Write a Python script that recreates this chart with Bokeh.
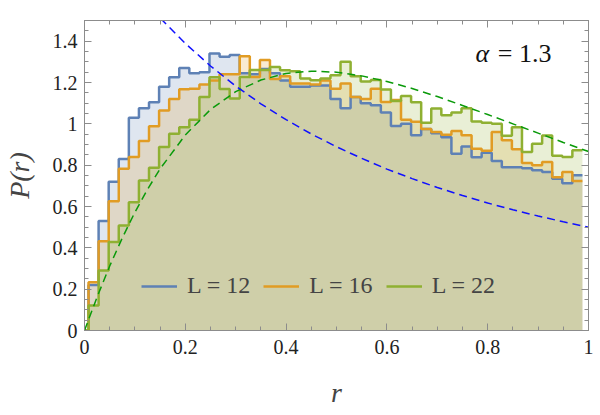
from bokeh.plotting import figure
from bokeh.models import (FixedTicker, CustomJSTickFormatter, LinearAxis, Legend,
                          LegendItem, Label, Range1d)
from bokeh.embed import file_html
from bokeh.resources import INLINE

# ---------------- data ----------------
bin_start = 0.008
bin_width = 0.02

p_L12 = [0.22, 0.53, 0.72, 0.83, 1.03, 1.075, 1.105, 1.18, 1.225, 1.27,
         1.245, 1.25, 1.34, 1.325, 1.333, 1.245, 1.24, 1.265, 1.245, 1.21,
         1.18, 1.18, 1.185, 1.185, 1.12, 1.075, 1.13, 1.10, 1.09, 1.055,
         0.99, 1.0, 0.945, 0.975, 0.955, 0.935, 0.855, 0.89, 0.838, 0.86,
         0.82, 0.79, 0.79, 0.785, 0.775, 0.767, 0.734, 0.713, 0.751]

p_L16 = [0.234, 0.432, 0.626, 0.783, 0.839, 0.917, 0.988, 1.065, 1.12, 1.167,
         1.17, 1.19, 1.21, 1.24, 1.24, 1.327, 1.227, 1.309, 1.217, 1.23,
         1.195, 1.195, 1.19, 1.21, 1.17, 1.195, 1.13, 1.12, 1.17, 1.106,
         1.115, 1.02, 1.01, 0.975, 0.96, 0.947, 0.965, 0.945, 0.879, 0.87,
         0.96, 0.92, 0.877, 0.81, 0.80, 0.815, 0.742, 0.767, 0.723]

p_L22 = [0.121, 0.29, 0.428, 0.508, 0.621, 0.726, 0.788, 0.888, 0.952, 0.983,
         1.02, 1.13, 1.225, 1.168, 1.122, 1.227, 1.26, 1.26, 1.275, 1.259,
         1.254, 1.219, 1.211, 1.219, 1.235, 1.30, 1.23, 1.205, 1.212, 1.166,
         1.11, 1.135, 1.105, 1.005, 1.074, 1.041, 1.055, 1.076, 1.011, 1.005,
         1.0, 0.942, 0.983, 0.864, 0.904, 0.944, 0.845, 0.839, 0.872]

# reference curves (sampled)
goe_r = [0.0, 0.025, 0.05, 0.075, 0.1, 0.125, 0.15, 0.2, 0.25, 0.3, 0.35, 0.4,
         0.45, 0.5, 0.55, 0.6, 0.65, 0.7, 0.75, 0.8, 0.85, 0.9, 0.95, 1.0]
goe_p = [0.0, 0.162, 0.312, 0.448, 0.572, 0.683, 0.782, 0.946, 1.069, 1.156,
         1.212, 1.244, 1.255, 1.250, 1.232, 1.205, 1.171, 1.132, 1.089, 1.045,
         1.000, 0.955, 0.910, 0.866]
poi_r = [0.1, 0.15, 0.2, 0.25, 0.3, 0.35, 0.4, 0.45, 0.5, 0.55, 0.6, 0.65,
         0.7, 0.75, 0.8, 0.85, 0.9, 0.95, 1.0]
poi_p = [1.653, 1.512, 1.389, 1.280, 1.183, 1.097, 1.020, 0.951, 0.889, 0.833,
         0.781, 0.735, 0.692, 0.653, 0.617, 0.584, 0.554, 0.526, 0.500]

x_ticks = [0, 0.2, 0.4, 0.6, 0.8, 1.0]
y_ticks = [0, 0.2, 0.4, 0.6, 0.8, 1.0, 1.2, 1.4]
series_labels = ["L = 12", "L = 16", "L = 22"]

SERIF = "'Liberation Serif', 'DejaVu Serif', serif"

# ---------------- figure ----------------
p = figure(width=600, height=415, output_backend="svg", toolbar_location=None,
           x_range=Range1d(0, 1), y_range=Range1d(0, 1.5),
           min_border_left=83, min_border_right=12, min_border_top=20,
           min_border_bottom=85, x_axis_type=None, y_axis_type=None)
p.xgrid.visible = False
p.ygrid.visible = False
p.outline_line_color = "#8c8c8c"
p.background_fill_color = "white"
p.border_fill_color = "white"

edges = [0.0] + [bin_start + bin_width * k for k in range(len(p_L12) + 1)]

colors = ["#5E81B5", "#E19C24", "#8FB032"]
all_series = [p_L12, p_L16, p_L22]

for vals, c in zip(all_series, colors):
    ys = [0.0] + list(vals) + [vals[-1]]
    p.varea_step(x=edges, y1=[0.0] * len(edges), y2=ys, step_mode="after",
                 fill_color=c, fill_alpha=0.2)

step_renderers = []
for vals, c in zip(all_series, colors):
    ys = [0.0] + list(vals) + [vals[-1]]
    r = p.step(x=edges, y=ys, mode="after", line_color=c, line_width=2.5)
    step_renderers.append(r)

p.line(goe_r, goe_p, line_color="#0a9a0a", line_width=1.5, line_dash="8 5")
p.line(poi_r, poi_p, line_color="#1010ff", line_width=1.5, line_dash="8 5")

# ---------------- axes ----------------
fmt = CustomJSTickFormatter(code="return String(Math.round(tick*10)/10);")
xminor = [i * 0.05 for i in range(21)]
yminor = [i * 0.05 for i in range(31)]

def style_axis(ax, labels=True):
    ax.axis_line_color = "#8c8c8c"
    ax.major_tick_line_color = "#8c8c8c"
    ax.minor_tick_line_color = "#8c8c8c"
    ax.major_tick_in = 7
    ax.major_tick_out = 0
    ax.minor_tick_in = 4
    ax.minor_tick_out = 0
    ax.major_label_text_font = SERIF
    ax.major_label_text_font_size = "20px" if labels else "0px"
    ax.major_label_text_color = "#222222" if labels else None
    ax.formatter = fmt

xb = LinearAxis(ticker=FixedTicker(ticks=x_ticks, minor_ticks=xminor))
style_axis(xb)
xb.major_label_standoff = 9
xb.axis_label = "r"
xb.axis_label_text_font = SERIF
xb.axis_label_text_font_style = "italic"
xb.axis_label_text_font_size = "28px"
xb.axis_label_standoff = 20
p.add_layout(xb, "below")

yl = LinearAxis(ticker=FixedTicker(ticks=y_ticks, minor_ticks=yminor))
style_axis(yl)
yl.major_label_standoff = 7
yl.axis_label = "P(r)"
yl.axis_label_text_font = SERIF
yl.axis_label_text_font_style = "italic"
yl.axis_label_text_font_size = "28px"
yl.axis_label_standoff = 15
p.add_layout(yl, "left")

xt = LinearAxis(ticker=FixedTicker(ticks=x_ticks, minor_ticks=xminor))
style_axis(xt, labels=False)
p.add_layout(xt, "above")

yr = LinearAxis(ticker=FixedTicker(ticks=y_ticks, minor_ticks=yminor))
style_axis(yr, labels=False)
p.add_layout(yr, "right")

# ---------------- legend ----------------
legend = Legend(items=[LegendItem(label=lab, renderers=[r])
                       for lab, r in zip(series_labels, step_renderers)],
                orientation="horizontal", location=(57, 31))
legend.background_fill_alpha = 0
legend.border_line_color = None
legend.label_text_font = SERIF
legend.label_text_font_size = "24px"
legend.glyph_width = 36
legend.label_standoff = 10
legend.spacing = 13
legend.padding = 5
legend.margin = 0
p.add_layout(legend, "center")

# ---------------- annotation ----------------
p.add_layout(Label(x=0.776, y=1.34, text="α", text_font=SERIF,
                   text_font_style="italic", text_font_size="26px",
                   text_baseline="middle", text_color="#111111"))
p.add_layout(Label(x=0.82, y=1.34, text="= 1.3", text_font=SERIF,
                   text_font_size="26px", text_baseline="middle",
                   text_color="#111111"))

open("out.html", "w").write(file_html(p, INLINE))
